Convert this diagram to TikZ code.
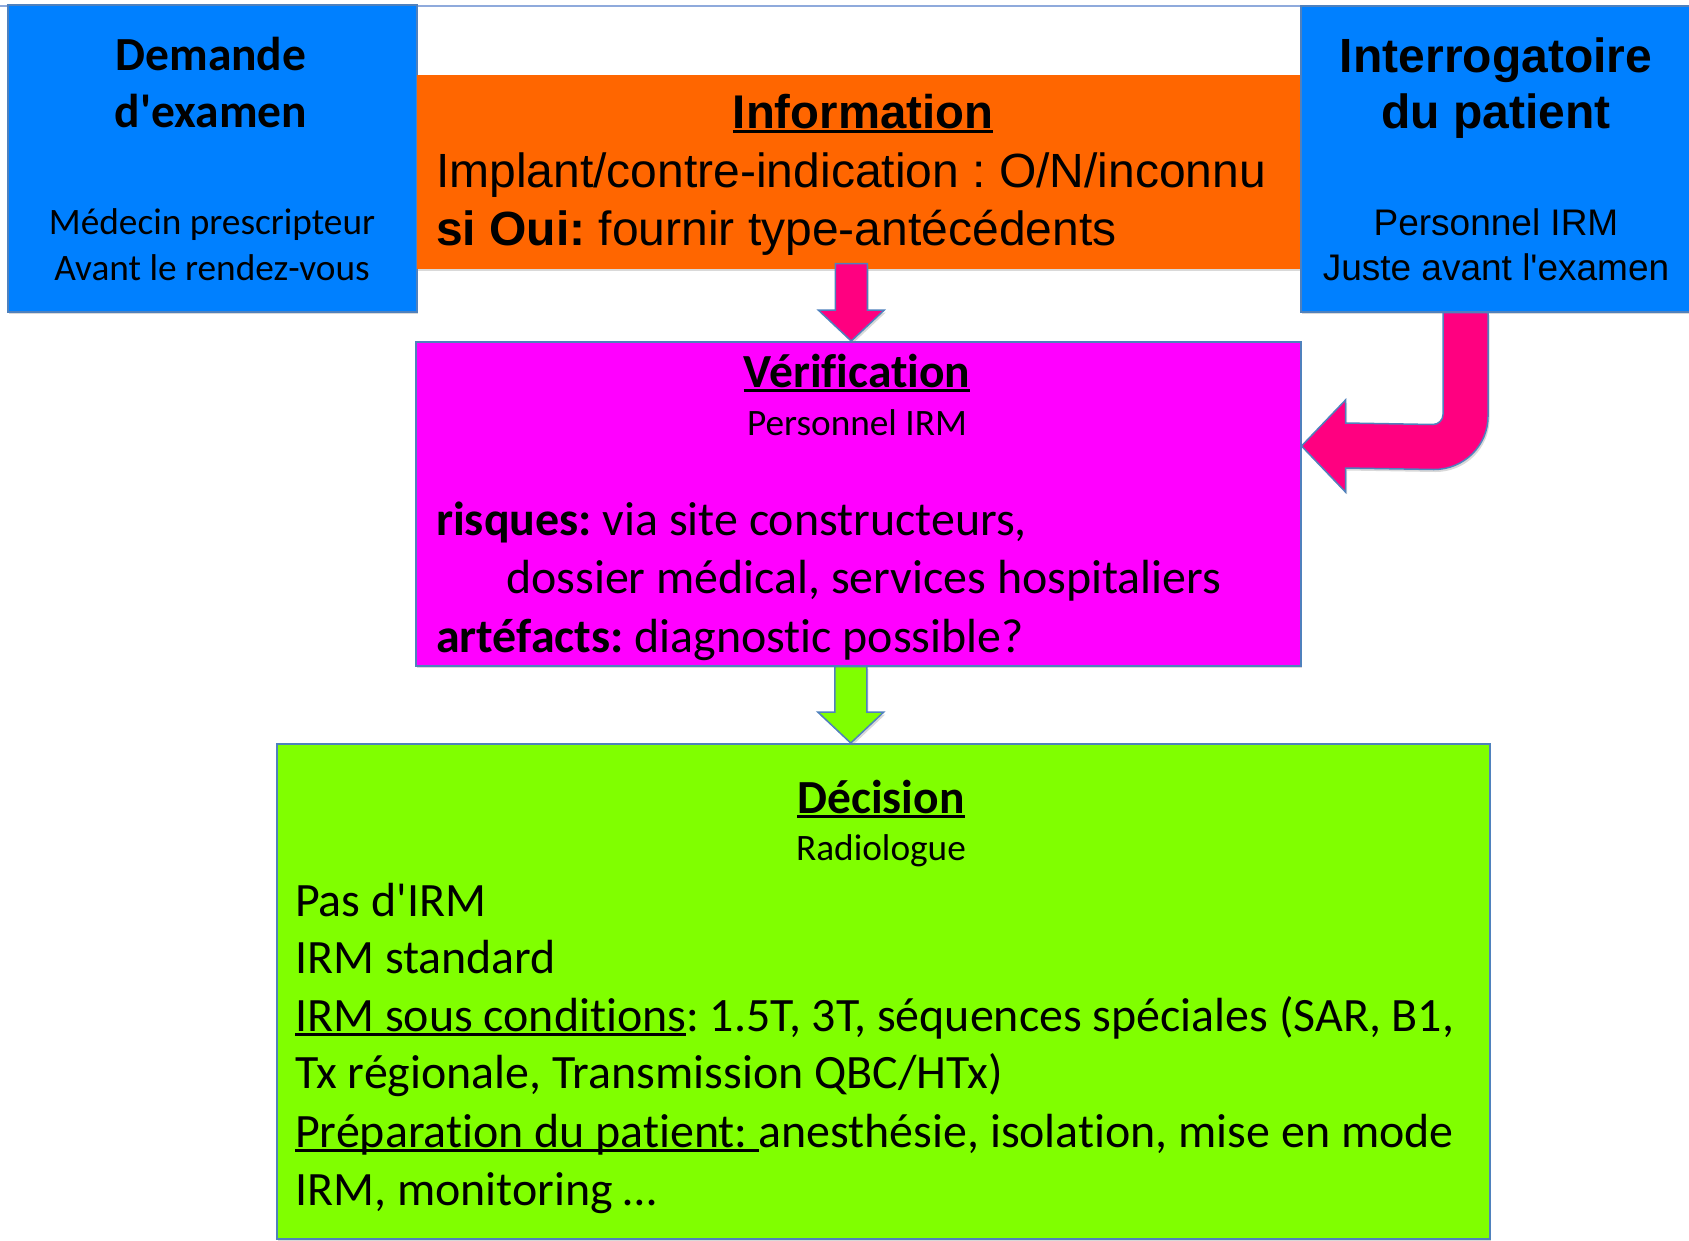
\documentclass[tikz,border=0pt]{standalone}
\usepackage{fontspec}
\setmainfont{Carlito}[Ligatures={NoCommon}]
\newfontfamily\arialfam{Liberation Sans}[Ligatures={NoCommon}]
\usetikzlibrary{calc,shadows}
\frenchspacing
\def\bigtxt{\fontsize{47.9}{57}\selectfont}
\def\smalltxt{\fontsize{37.3}{45}\selectfont}
\newcommand\ulin[1]{\setbox0\hbox{#1}\rlap{\rule[-0.11em]{\wd0}{0.06em}}\box0}
\definecolor{boxblue}{RGB}{0,128,255}
\definecolor{boxorange}{RGB}{255,102,0}
\definecolor{boxmagenta}{RGB}{255,0,255}
\definecolor{boxgreen}{RGB}{128,255,0}
\definecolor{arrowpink}{RGB}{255,0,128}
\definecolor{edgeblue}{RGB}{79,129,189}
\definecolor{lineblue}{RGB}{143,170,220}

\begin{document}
\begin{tikzpicture}[x=1pt, y=-1pt, every node/.append style={text=black}]
    \tikzstyle{box}=[rectangle, draw=edgeblue, line width=1.5pt, anchor=north west, inner sep=0pt,
        drop shadow={shadow xshift=1.5pt, shadow yshift=-2.5pt, opacity=.3}]
    \tikzstyle{blockarrow}=[draw=edgeblue, line width=1.5pt,
        drop shadow={shadow xshift=1.5pt, shadow yshift=-2.5pt, opacity=.3}]
    \tikzstyle{txt}=[inner sep=0pt, anchor=base]
    \tikzstyle{txtl}=[inner sep=0pt, anchor=base west]

    \useasboundingbox (0,0) rectangle (1689,1240);
    \draw[lineblue, line width=1.5pt] (0,6) -- (1689,6);

    % Draw the boxes
    \node[box, fill=boxblue, minimum width=409pt, minimum height=307pt] (demande) at (7,4) {};
    \node[box, fill=boxorange, draw=none, drop shadow={opacity=0}, minimum width=884pt, minimum height=194pt] (info) at (416,74) {};
    \node[box, fill=boxblue, minimum width=392pt, minimum height=306pt] (interro) at (1300,5) {};
    \node[box, fill=boxmagenta, minimum width=885pt, minimum height=324pt] (verif) at (415,341) {};
    \node[box, fill=boxgreen, minimum width=1213pt, minimum height=495pt] (decision) at (276,743) {};

    % Straight arrows between the boxes
    \foreach \src/\dst/\col/\ov in {info/verif/arrowpink/6, verif/decision/boxgreen/0} {
        \coordinate (top) at ($(\src.south)+(-7.5,-\ov)$);
        \coordinate (tip) at (top |- \dst.north);
        \filldraw[blockarrow, fill=\col] ($(top)+(-16,0)$) -- ($(top)+(16,0)$) -- ($(tip)+(16,-31)$)
            -- ($(tip)+(33,-31)$) -- (tip) -- ($(tip)+(-33,-31)$) -- ($(tip)+(-16,-31)$) -- cycle;
    }

    % Bent arrow from the patient interview
    \coordinate (b0) at ($(interro.south west)+(143,0)$);
    \coordinate (bt) at ($(verif.north east)+(0,105)$);
    \filldraw[blockarrow, fill=arrowpink] (b0) -- ($(b0)+(45,0)$) -- ($(b0)+(45,104)$)
        .. controls ($(b0)+(45,133)$) and ($(b0)+(21,157)$) .. ($(b0)+(-9,157)$)
        -- ($(bt)+(44,22)$) -- ($(bt)+(44,46)$) -- (bt) -- ($(bt)+(44,-46)$) -- ($(bt)+(44,-23)$)
        -- ($(b0)+(-10,112)$) .. controls ($(b0)+(-4.5,112)$) and ($(b0)+(0,107.5)$) .. ($(b0)+(0,102)$)
        -- cycle;

    % Texts of the request box
    \node[txt, font=\fontsize{47.5}{57}\selectfont\bfseries] (dem-1) at (211,70) {Demande};
    \node[txt, font=\fontsize{47.5}{57}\selectfont\bfseries] (dem-2) at (211,127) {d\textquotesingle examen};
    \node[txt, font=\smalltxt] (dem-3) at (212,234) {Médecin prescripteur};
    \node[txt, font=\smalltxt] (dem-4) at (212,280) {Avant le rendez-vous};

    % Texts of the information box
    \node[txt, font=\arialfam\fontsize{47.3}{57}\selectfont\bfseries] (inf-1) at (863,128) {\ulin{Information}};
    \node[txtl, font=\arialfam\fontsize{48}{57}\selectfont] (inf-2) at (436,187) {Implant/contre-indication : O/N/inconnu};
    \node[txtl, font=\arialfam\fontsize{48}{57}\selectfont] (inf-3) at (436,245) {\textbf{si Oui:} fournir type-antécédents};

    % Texts of the interview box
    \node[txt, font=\arialfam\fontsize{48}{57}\selectfont\bfseries] (int-1) at (1496,72) {Interrogatoire};
    \node[txt, font=\arialfam\fontsize{48}{57}\selectfont\bfseries] (int-2) at (1496,128) {du patient};
    \node[txt, font=\arialfam\fontsize{37}{45}\selectfont] (int-3) at (1496,235) {Personnel IRM};
    \node[txt, font=\arialfam\fontsize{37}{45}\selectfont] (int-4) at (1496,280) {Juste avant l\textquotesingle examen};

    % Texts of the verification box
    \node[txt, font=\fontsize{47.5}{57}\selectfont\bfseries] (ver-1) at (857,387) {\ulin{Vérification}};
    \node[txt, font=\smalltxt] (ver-2) at (857,435) {Personnel IRM};
    \node[txtl, font=\bigtxt] (ver-3) at (436,535) {\textbf{risques:} via site constructeurs,};
    \node[txtl, font=\bigtxt] (ver-4) at (506,593) {dossier médical, services hospitaliers};
    \node[txtl, font=\bigtxt] (ver-5) at (436,652) {\textbf{artéfacts:} diagnostic possible?};

    % Texts of the decision box
    \node[txt, font=\fontsize{47.5}{57}\selectfont\bfseries] (dec-0) at (881,813) {\ulin{Décision}};
    \node[txt, font=\smalltxt] (dec-r) at (881,860) {Radiologue};
    \foreach \name/\y/\line in {1/916/{Pas d\textquotesingle IRM}, 2/973/{IRM standard},
        3/1031/{\ulin{IRM sous conditions}: 1.5T, 3T, séquences spéciales (SAR, B1,},
        4/1088/{Tx régionale, Transmission QBC/HTx)},
        5/1147/{\ulin{Préparation du patient: }anesthésie, isolation, mise en mode},
        6/1205/{IRM, monitoring \dots}}
        \node[txtl, font=\bigtxt] (dec-\name) at (295,\y) {\line};
\end{tikzpicture}
\end{document}
